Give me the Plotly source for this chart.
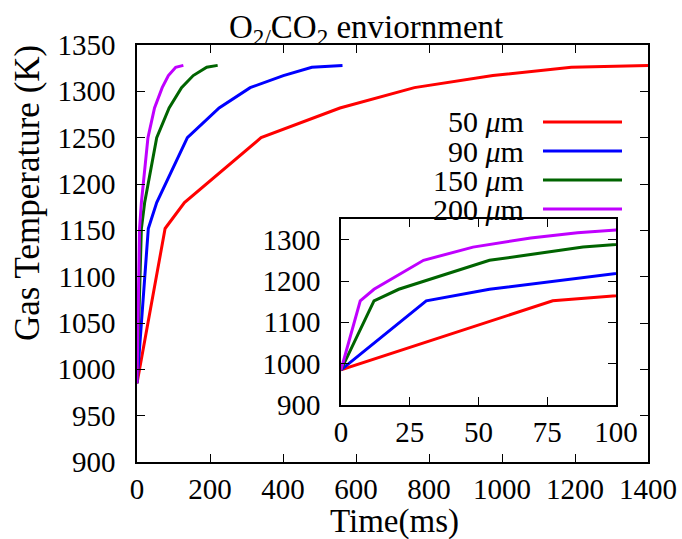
import plotly.graph_objects as go

W, H = 682, 539

# Data (time in ms, gas temperature in K)
labels = ["50 <i>μ</i>m", "90 <i>μ</i>m", "150 <i>μ</i>m", "200 <i>μ</i>m"]
colors = ["#ff0000", "#0000ff", "#006400", "#c000ff"]
temp = [985, 1152, 1180, 1250, 1282, 1304, 1317, 1326, 1328]
t50 = [0, 77, 130, 340, 556, 760, 975, 1190, 1400]
t90 = [0, 31, 54, 138, 225, 310, 401, 479, 563]
t150 = [0, 12, 21, 54, 88, 122, 154, 191, 221]
t200 = [0, 7, 12, 30, 48, 69, 86, 106, 127]
times = [t50, t90, t150, t200]

main_xticks = [0, 200, 400, 600, 800, 1000, 1200, 1400]
main_yticks = [900, 950, 1000, 1050, 1100, 1150, 1200, 1250, 1300, 1350]
inset_xticks = [0, 25, 50, 75, 100]
inset_yticks = [900, 1000, 1100, 1200, 1300]

FONT = "Liberation Serif"
FS = 29

def px_x(x):
    return x / W

def px_y(y):
    return 1 - y / H

fig = go.Figure()
for t, lab, c in zip(times, labels, colors):
    fig.add_trace(go.Scatter(x=t, y=temp, mode="lines", line=dict(color=c, width=3),
                             name=lab, showlegend=False, xaxis="x", yaxis="y"))
for t, lab, c in zip(times, labels, colors):
    fig.add_trace(go.Scatter(x=t, y=temp, mode="lines", line=dict(color=c, width=3),
                             name=lab, showlegend=False, xaxis="x2", yaxis="y2"))

axis_common = dict(showline=True, linecolor="black", linewidth=1.5, mirror="allticks",
                   ticks="inside", ticklen=8, tickwidth=1, tickcolor="black",
                   showgrid=False, zeroline=False, automargin=False,
                   tickfont=dict(family=FONT, size=FS, color="black"))

fig.update_layout(
    width=W, height=H, autosize=False,
    margin=dict(l=0, r=0, t=0, b=0, pad=0, autoexpand=False),
    paper_bgcolor="white", plot_bgcolor="white", showlegend=False,
    font=dict(family=FONT, size=FS, color="black"),
    xaxis=dict(domain=[px_x(137), px_x(648)], range=[0, 1400], tickvals=main_xticks,
               anchor="y", ticklabelstandoff=0, **axis_common),
    yaxis=dict(domain=[px_y(462), px_y(45)], range=[900, 1350], tickvals=main_yticks,
               anchor="x", ticklabelstandoff=14, **axis_common),
    xaxis2=dict(domain=[px_x(341), px_x(616)], range=[0, 100], tickvals=inset_xticks,
                anchor="y2", ticklabelstandoff=0, **axis_common),
    yaxis2=dict(domain=[px_y(405), px_y(219)], range=[900, 1350], tickvals=inset_yticks,
                anchor="x2", ticklabelstandoff=13, **axis_common),
)

annotations = [
    dict(text="O<sub>2/</sub>CO<sub>2</sub> enviornment", x=px_x(366), y=px_y(30),
         xref="paper", yref="paper", showarrow=False, xanchor="center", yanchor="middle",
         font=dict(family=FONT, size=33)),
    dict(text="Time(ms)", x=px_x(394), y=px_y(521), xref="paper", yref="paper",
         showarrow=False, xanchor="center", yanchor="middle", font=dict(family=FONT, size=33)),
    dict(text="Gas Temperature (K)", x=px_x(27), y=px_y(193), xref="paper", yref="paper",
         showarrow=False, xanchor="center", yanchor="middle", textangle=-90,
         font=dict(family=FONT, size=35)),
]
shapes = []
rows = [122, 151, 180, 209]
for lab, c, ry in zip(labels, colors, rows):
    annotations.append(dict(text=lab, x=px_x(526), y=px_y(ry), xref="paper", yref="paper",
                            showarrow=False, xanchor="right", yanchor="middle",
                            font=dict(family=FONT, size=30)))
    shapes.append(dict(type="line", xref="paper", yref="paper", x0=px_x(543), x1=px_x(622),
                       y0=px_y(ry), y1=px_y(ry), line=dict(color=c, width=3)))
fig.update_layout(annotations=annotations, shapes=shapes)

fig.write_html("out.html")
